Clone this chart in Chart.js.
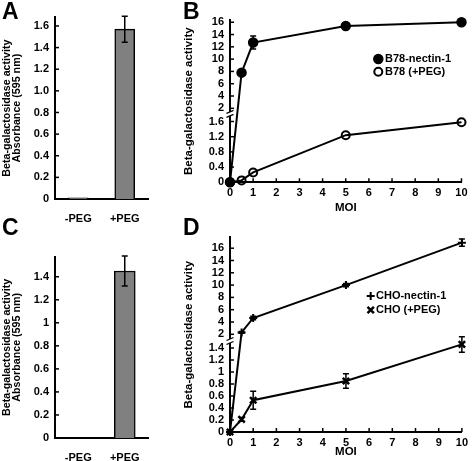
<!DOCTYPE html>
<html>
<head>
<meta charset="utf-8">
<script src="https://cdn.jsdelivr.net/npm/chart.js@4.4.1/dist/chart.umd.min.js"></script>
<style>
  body { margin: 0; background: #fff; }
  #wrap { position: relative; width: 472px; height: 461px; overflow: hidden;
          font-family: "Liberation Sans", Arial, Helvetica, sans-serif; }
  .panel { position: absolute; }
  .letter { position: absolute; font-weight: bold; font-size: 23px; line-height: 23px; color: #000; }
</style>
</head>
<body>
<div id="wrap">
  <div class="panel" style="left:0;top:0;width:160px;height:222px"><canvas id="chartA"></canvas></div>
  <div class="panel" style="left:160px;top:0;width:312px;height:222px"><canvas id="chartB"></canvas></div>
  <div class="panel" style="left:0;top:222px;width:160px;height:239px"><canvas id="chartC"></canvas></div>
  <div class="panel" style="left:160px;top:222px;width:312px;height:239px"><canvas id="chartD"></canvas></div>
  <div class="letter" style="left:2px;top:0">A</div>
  <div class="letter" style="left:183px;top:0">B</div>
  <div class="letter" style="left:2px;top:216px">C</div>
  <div class="letter" style="left:183px;top:216px">D</div>
</div>
<script>
// ---- data ----
const pegLabels = ['-PEG', '+PEG'];
const aAbsorbance = [0.01, 1.57];
const aErrors = [0, 0.12];
const aTickValues = [0, 0.2, 0.4, 0.6, 0.8, 1.0, 1.2, 1.4, 1.6];
const aTickLabels = ['0', '0.2', '0.4', '0.6', '0.8', '1.0', '1.2', '1.4', '1.6'];

const cAbsorbance = [0, 1.45];
const cErrors = [0, 0.13];
const cTickValues = [0, 0.2, 0.4, 0.6, 0.8, 1, 1.2, 1.4];
const cTickLabels = ['0', '0.2', '0.4', '0.6', '0.8', '1', '1.2', '1.4'];

const moi = [0, 0.5, 1, 5, 10];
const moiTicks = [0, 1, 2, 3, 4, 5, 6, 7, 8, 9, 10];

const b78Nectin = [0, 7.8, 12.7, 15.4, 16.0];
const b78NectinErr = [0, 0, 1.05, 0, 0];
const b78Peg = [0, 0.05, 0.26, 1.24, 1.58];
const b78PegErr = [0, 0, 0, 0, 0];
const bTickValues = [0, 0.4, 0.8, 1.2, 1.6, 2, 4, 6, 8, 10, 12, 14, 16];
const bTickLabels = ['0', '0.4', '0.8', '1.2', '1.6', '2', '4', '6', '8', '10', '12', '14', '16'];

const choNectin = [0, 2.3, 4.65, 10.0, 16.9];
const choNectinErr = [0, 0.15, 0.3, 0.25, 0.6];
const choPeg = [0, 0.21, 0.53, 0.85, 1.46];
const choPegErr = [0, 0.03, 0.15, 0.12, 0.13];
const dTickValues = [0, 0.2, 0.4, 0.6, 0.8, 1, 1.2, 1.4, 2, 4, 6, 8, 10, 12, 14, 16];
const dTickLabels = ['0', '0.2', '0.4', '0.6', '0.8', '1', '1.2', '1.4', '2', '4', '6', '8', '10', '12', '14', '16'];

const yTitleLines = ['Beta-galactosidase activity', 'Absorbance (595 nm)'];

const FONT = '"Liberation Sans", Arial, Helvetica, sans-serif';
Chart.defaults.font.family = FONT;
Chart.defaults.font.weight = 'bold';
Chart.defaults.color = '#000';

// linear scale with a compressed upper part (broken axis)
class BrokenScale extends Chart.LinearScale {
    toDisplay(v) {
        let b = this.options.breakValue, k = this.options.upperRatio;
        return v <= b ? v : b + (v - b) * k;
    }
    fromDisplay(d) {
        let b = this.options.breakValue, k = this.options.upperRatio;
        return d <= b ? d : b + (d - b) / k;
    }
    getPixelForValue(value) {
        return super.getPixelForValue(this.toDisplay(value));
    }
    getValueForPixel(pixel) {
        return this.fromDisplay(super.getValueForPixel(pixel));
    }
}
BrokenScale.id = 'broken';
BrokenScale.defaults = {};
Chart.register(BrokenScale);

// short tick marks drawn inside the plot
const innerTicks = {
    id: 'innerTicks',
    afterDraw(chart, args, opts) {
        let ctx = chart.ctx;
        ctx.save();
        ctx.strokeStyle = '#000';
        ctx.lineWidth = 1.5;
        let y = chart.scales.y;
        y.ticks.forEach((t, i) => {
            let p = y.getPixelForTick(i);
            ctx.beginPath();
            ctx.moveTo(y.right, p);
            ctx.lineTo(y.right + opts.len, p);
            ctx.stroke();
        });
        if (opts.xTicks) {
            let x = chart.scales.x;
            x.ticks.forEach((t, i) => {
                let p = x.getPixelForTick(i);
                ctx.beginPath();
                ctx.moveTo(p, x.top);
                ctx.lineTo(p, x.top - opts.len);
                ctx.stroke();
            });
        }
        ctx.restore();
    }
};

// vertical error bars from dataset.errors
const errorBars = {
    id: 'errorBars',
    afterDatasetsDraw(chart) {
        let ctx = chart.ctx;
        let yScale = chart.scales.y;
        ctx.save();
        ctx.strokeStyle = '#000';
        ctx.lineWidth = 1.5;
        chart.data.datasets.forEach((ds, i) => {
            if (!ds.errors) return;
            let meta = chart.getDatasetMeta(i);
            meta.data.forEach((el, j) => {
                let err = ds.errors[j];
                if (!err) return;
                let v = typeof ds.data[j] === 'object' ? ds.data[j].y : ds.data[j];
                let top = yScale.getPixelForValue(v + err);
                let bot = yScale.getPixelForValue(v - err);
                ctx.beginPath();
                ctx.moveTo(el.x, top); ctx.lineTo(el.x, bot);
                ctx.moveTo(el.x - 3, top); ctx.lineTo(el.x + 3, top);
                ctx.moveTo(el.x - 3, bot); ctx.lineTo(el.x + 3, bot);
                ctx.stroke();
            });
        });
        ctx.restore();
    }
};

// axis break mark
const breakMark = {
    id: 'breakMark',
    afterDraw(chart, args, opts) {
        if (opts.value === undefined) return;
        let ctx = chart.ctx;
        let y = chart.scales.y;
        let x0 = y.right;
        let p = y.getPixelForValue(opts.value);
        ctx.save();
        ctx.fillStyle = '#fff';
        ctx.fillRect(x0 - 2, p - 2, 4, 4);
        ctx.strokeStyle = '#000';
        ctx.lineWidth = 1.3;
        [-2, 2].forEach(d => {
            ctx.beginPath();
            ctx.moveTo(x0 - 3.5, p + d + 1.5);
            ctx.lineTo(x0 + 3.5, p + d - 1.5);
            ctx.stroke();
        });
        ctx.restore();
    }
};

// legend drawn inside the plot
const markerLegend = {
    id: 'markerLegend',
    afterDraw(chart, args, opts) {
        if (opts.x === undefined) return;
        let ctx = chart.ctx;
        ctx.save();
        ctx.font = 'bold 11px ' + FONT;
        ctx.textBaseline = 'middle';
        chart.data.datasets.forEach((ds, i) => {
            let y = opts.y + i * opts.rowHeight;
            ctx.strokeStyle = '#000';
            ctx.fillStyle = ds.pointBackgroundColor;
            ctx.lineWidth = ds.pointBorderWidth;
            Chart.helpers.drawPoint(ctx, {
                pointStyle: ds.pointStyle, radius: ds.pointRadius,
                borderWidth: ds.pointBorderWidth, rotation: 0
            }, opts.x, y);
            ctx.fillStyle = '#000';
            ctx.fillText(ds.label, opts.textX, y);
        });
        ctx.restore();
    }
};

Chart.register(innerTicks, errorBars, breakMark, markerLegend);

function tickFont(size) {
    return { size: size, weight: 'bold', family: FONT };
}

function barChart(id, values, errors, yMax, tickValues, tickLabels, barWidth, layoutTop, xHeight) {
    return new Chart(document.getElementById(id), {
        type: 'bar',
        data: {
            labels: pegLabels,
            datasets: [{
                data: values,
                errors: errors,
                backgroundColor: '#808080',
                borderColor: '#000',
                borderWidth: 1.5,
                barThickness: barWidth
            }]
        },
        options: {
            responsive: true,
            maintainAspectRatio: false,
            animation: false,
            layout: { padding: { top: layoutTop, right: 12, left: 0, bottom: 0 } },
            plugins: { legend: { display: false }, tooltip: { enabled: false },
                       innerTicks: { len: 4, xTicks: false } },
            scales: {
                x: {
                    grid: { display: false },
                    border: { display: true, color: '#000', width: 2 },
                    ticks: { font: tickFont(11), padding: 5, color: '#000' },
                    afterFit: s => { s.height = xHeight; }
                },
                y: {
                    min: 0, max: yMax,
                    grid: { display: false, drawTicks: false },
                    border: { display: true, color: '#000', width: 2 },
                    ticks: { font: tickFont(11), padding: 6, autoSkip: false, color: '#000',
                             callback: (v, i) => tickLabels[i] },
                    afterBuildTicks: s => { s.ticks = tickValues.map(v => ({ value: v })); },
                    title: { display: true, text: yTitleLines, color: '#000',
                             font: { size: 10.7, weight: 'bold', family: FONT, lineHeight: 0.9 },
                             padding: { top: 2.7, bottom: 0 } },
                    afterFit: s => { s.width = 55; }
                }
            }
        }
    });
}

function moiChart(id, sets, yMax, breakValue, upperRatio, tickValues, tickLabels, layoutTop,
                  xHeight, xPad, titlePadBottom, legendPos, markValue) {
    return new Chart(document.getElementById(id), {
        type: 'line',
        data: {
            datasets: sets.map(s => ({
                label: s.label,
                data: moi.map((m, i) => ({ x: m, y: s.values[i] })),
                errors: s.errors,
                borderColor: '#000',
                borderWidth: 2,
                pointStyle: s.pointStyle,
                pointRadius: s.radius,
                pointBorderWidth: s.pointBorderWidth,
                pointBackgroundColor: s.fill,
                pointBorderColor: '#000',
                tension: 0,
                clip: false
            }))
        },
        options: {
            responsive: true,
            maintainAspectRatio: false,
            animation: false,
            layout: { padding: { top: layoutTop, right: 8, left: 0, bottom: 0 } },
            plugins: {
                legend: { display: false }, tooltip: { enabled: false },
                innerTicks: { len: 4, xTicks: true },
                breakMark: { value: markValue },
                markerLegend: legendPos
            },
            scales: {
                x: {
                    type: 'linear', min: 0, max: 10,
                    grid: { display: false, drawTicks: false },
                    border: { display: true, color: '#000', width: 2 },
                    ticks: { font: tickFont(11), padding: xPad, autoSkip: false, color: '#000' },
                    afterBuildTicks: s => { s.ticks = moiTicks.map(v => ({ value: v })); },
                    title: { display: true, text: 'MOI', color: '#000',
                             font: { size: 11.5, weight: 'bold', family: FONT },
                             padding: { top: 0, bottom: titlePadBottom } },
                    afterFit: s => { s.height = xHeight; }
                },
                y: {
                    type: 'broken', min: 0, max: yMax,
                    breakValue: breakValue, upperRatio: upperRatio,
                    grid: { display: false, drawTicks: false },
                    border: { display: true, color: '#000', width: 2 },
                    ticks: { font: tickFont(11), padding: 6, autoSkip: false, color: '#000',
                             callback: (v, i) => tickLabels[i] },
                    afterBuildTicks: s => { s.ticks = tickValues.map(v => ({ value: v })); },
                    title: { display: true, text: 'Beta-galactosidase activity', color: '#000',
                             font: { size: 11.5, weight: 'bold', family: FONT },
                             padding: { top: 21.5, bottom: 0 } },
                    afterFit: s => { s.width = 70; }
                }
            }
        }
    });
}

barChart('chartA', aAbsorbance, aErrors, 1.68, aTickValues, aTickLabels, 20, 17.3, 23);
barChart('chartC', cAbsorbance, cErrors, 1.574, cTickValues, cTickLabels, 21, 34.7, 23);

moiChart('chartB', [
    { label: 'B78-nectin-1', values: b78Nectin, errors: b78NectinErr, pointStyle: 'circle',
      radius: 4.5, pointBorderWidth: 1.5, fill: '#000' },
    { label: 'B78 (+PEG)', values: b78Peg, errors: b78PegErr, pointStyle: 'circle',
      radius: 4, pointBorderWidth: 2, fill: 'rgba(0,0,0,0)' }
], 4.271, 1.937, 0.1618, bTickValues, bTickLabels, 20, 39.7, 4.4, 7,
   { x: 218.3, y: 59, rowHeight: 12.7, textX: 225 }, 1.8);

moiChart('chartD', [
    { label: 'CHO-nectin-1', values: choNectin, errors: choNectinErr, pointStyle: 'cross',
      radius: 4, pointBorderWidth: 2, fill: '#000' },
    { label: 'CHO (+PEG)', values: choPeg, errors: choPegErr, pointStyle: 'crossRot',
      radius: 4.5, pointBorderWidth: 2.5, fill: '#000' }
], 3.245, 1.586, 0.1025, dTickValues, dTickLabels, 15.3, 29, 4, 2.4,
   { x: 210.7, y: 74, rowHeight: 14, textX: 216 }, 1.517);
</script>
</body>
</html>
